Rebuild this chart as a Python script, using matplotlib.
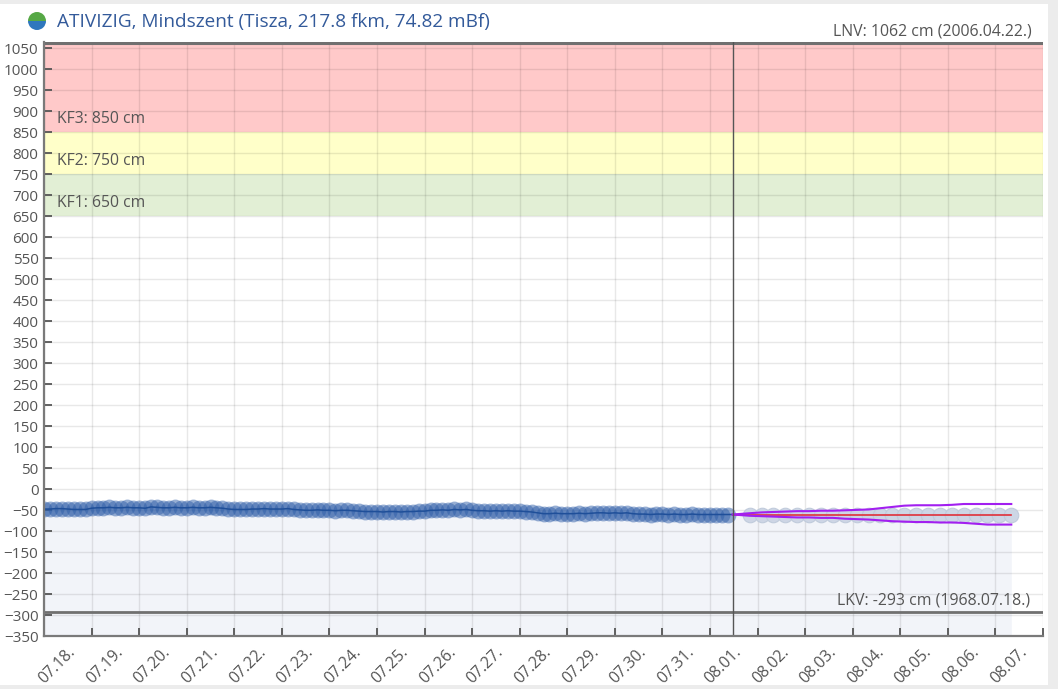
import matplotlib
matplotlib.use("Agg")
import matplotlib.pyplot as plt
import matplotlib.transforms as mtransforms
from matplotlib.patches import Rectangle, Wedge
import pandas as pd

# ---------------- data ----------------
title = "ATIVIZIG, Mindszent (Tisza, 217.8 fkm, 74.82 mBf)"

obs_start = "2024-07-18 00:00"
obs_values = [
    -47, -47, -46, -46, -47, -48, -48, -48,
    -45, -44, -44, -43, -44, -44, -43, -44,
    -44, -45, -42, -43, -44, -44, -43, -44,
    -44, -43, -44, -44, -43, -44, -45, -47,
    -48, -48, -48, -47, -47, -46, -47, -47,
    -47, -46, -48, -49, -50, -50, -49, -50,
    -50, -51, -50, -50, -51, -52, -53, -53,
    -53, -54, -53, -53, -54, -53, -53, -52,
    -52, -50, -50, -49, -50, -48, -49, -48,
    -50, -51, -51, -52, -51, -52, -51, -52,
    -52, -53, -54, -56, -58, -58, -57, -58,
    -58, -58, -57, -58, -57, -56, -56, -57,
    -56, -57, -56, -58, -59, -59, -60, -59,
    -59, -60, -59, -60, -60, -59, -60, -60,
    -60, -60, -60, -60,
]
now_time = "2024-08-01 11:30"
fc_start = "2024-08-01 20:00"
fc_values = [-60] * 23
fc_upper = [-57, -55, -54, -53, -52, -52, -51, -51, -50, -49, -48, -45,
            -42, -39, -38, -38, -38, -37, -35, -35, -35, -35, -35]
fc_lower = [-63, -64, -65, -66, -67, -67, -68, -68, -70, -71, -72, -74,
            -76, -77, -78, -78, -79, -79, -80, -82, -84, -84, -84]

kf_levels = [650, 750, 850]
kf_labels = ["KF1: 650 cm", "KF2: 750 cm", "KF3: 850 cm"]
kf_colors = ["#e2efd5", "#ffffc9", "#ffc9c9"]
lnv_value = 1062
lnv_label = "LNV: 1062 cm (2006.04.22.)"
lkv_value = -293
lkv_label = "LKV: -293 cm (1968.07.18.)"
y_ticks = list(range(-350, 1051, 50))
x_start = "2024-07-18"
x_end = "2024-08-08"

# ---------------- figure ----------------
W, H = 1058, 689
fig = plt.figure(figsize=(W / 100, H / 100), dpi=100)
fig.patch.set_facecolor("#ececec")
fig.patches.append(Rectangle((0, 4 / H), 1048 / W, 681 / H, transform=fig.transFigure,
                             facecolor="white", edgecolor="none", zorder=-10))

plt.rcParams["font.family"] = ["Open Sans", "DejaVu Sans"]
txt_col = "#555555"

ax = fig.add_axes([44 / W, (H - 636.3) / H, 999 / W, 594.3 / H])
ax.set_facecolor("none")

obs_times = pd.date_range(obs_start, periods=len(obs_values), freq="3h")
fc_times = pd.date_range(fc_start, periods=len(fc_values), freq="6h")
now = pd.Timestamp(now_time)
last_obs = obs_values[-1]
x0, x1 = pd.Timestamp(x_start), pd.Timestamp(x_end)

ax.set_ylim(-350, 1065)
ax.set_xlim(x0, x1)

# bands
tops = kf_levels[1:] + [1065]
for lo, hi, c in zip(kf_levels, tops, kf_colors):
    ax.axhspan(lo, hi, color=c, zorder=0, lw=0)

# fill under series
all_t = list(obs_times) + [now] + list(fc_times)
all_v = obs_values + [last_obs] + fc_values
ax.fill_between(all_t, all_v, -350, color="#f2f4f9", zorder=0.5, lw=0)

# grid
ax.set_yticks(y_ticks)
day_ticks = pd.date_range(x_start, x_end, freq="D")
ax.set_xticks(day_ticks)
ax.set_xticklabels([d.strftime("%m.%d.") for d in day_ticks[:-1]] + [""])
ax.grid(True, color="black", alpha=0.09, lw=1)
for gl in ax.get_xgridlines() + ax.get_ygridlines():
    gl.set_zorder(1)

# LNV / LKV lines
ax.hlines([lnv_value], x0, x1, color="#707070", lw=2.2, zorder=2, clip_on=True)
ax.hlines([lkv_value], x0, x1, color="#707070", lw=2.0, zorder=2, clip_on=True)

# observed
ax.scatter(obs_times, obs_values, s=130, color="#2f5ea8", alpha=0.5, lw=0, zorder=3)
ax.plot(list(obs_times) + [now], obs_values + [last_obs], color="#1f4f99", lw=1.1, zorder=4)

# forecast
ax.scatter(fc_times, fc_values, s=110, facecolor="#cbd4e4", edgecolor="#bfcadb", lw=0.8,
           alpha=0.95, zorder=3)
fc_line_t = [now] + list(fc_times)
ax.plot(fc_line_t, [last_obs] + fc_values, color="#e0303a", lw=1.2, zorder=4)
ax.plot(fc_line_t, [last_obs] + fc_upper, color="#a21ff0", lw=1.5, zorder=4)
ax.plot(fc_line_t, [last_obs] + fc_lower, color="#a21ff0", lw=1.5, zorder=4)

# now line
ax.axvline(now, color="#555555", lw=1, zorder=5)

# spines / ticks
for s in ["top", "right"]:
    ax.spines[s].set_visible(False)
for s in ["left", "bottom"]:
    ax.spines[s].set_color("#7a7a7a")
    ax.spines[s].set_linewidth(1.6)
    ax.spines[s].set_zorder(6)
ax.tick_params(axis="both", direction="in", length=5.5, width=1.3, color="#555555",
               labelcolor=txt_col, labelsize=11)
ax.tick_params(axis="y", pad=4)
ax.tick_params(axis="x", pad=10, labelsize=11.4)
for lbl in ax.get_xticklabels():
    lbl.set_rotation(45)
    lbl.set_ha("right")
    lbl.set_va("center")
    lbl.set_rotation_mode("anchor")
    lbl.set_transform(lbl.get_transform() +
                      mtransforms.ScaledTranslation(29 / 100, 0, fig.dpi_scale_trans))

# band labels
ytr = ax.get_yaxis_transform()
for lv, lab in zip(kf_levels, kf_labels):
    ax.annotate(lab, xy=(0, lv), xycoords=ytr, xytext=(9.5, 9.5), textcoords="offset points",
                ha="left", va="center", color=txt_col, fontsize=11.3, zorder=7)
ax.annotate(lnv_label, xy=(1, lnv_value), xycoords=ytr, xytext=(-8, 8.5),
            textcoords="offset points", ha="right", va="center", color=txt_col,
            fontsize=11.4, annotation_clip=False)
ax.annotate(lkv_label, xy=(1, lkv_value), xycoords=ytr, xytext=(-9.5, 8.5),
            textcoords="offset points", ha="right", va="center", color=txt_col,
            fontsize=11.4, zorder=7)

# title + icon
fig.text(57 / W, 1 - 21.5 / H, title, color="#335a9a", fontsize=13.7, ha="left", va="center")
ic = (37, H - 21)
fig.add_artist(Wedge(ic, 9, 0, 180, transform=mtransforms.IdentityTransform(),
                     facecolor="#56a845", edgecolor="none"))
fig.add_artist(Wedge(ic, 9, 180, 360, transform=mtransforms.IdentityTransform(),
                     facecolor="#2f77bd", edgecolor="none"))

fig.savefig("out.png", dpi=100, facecolor=fig.get_facecolor())
